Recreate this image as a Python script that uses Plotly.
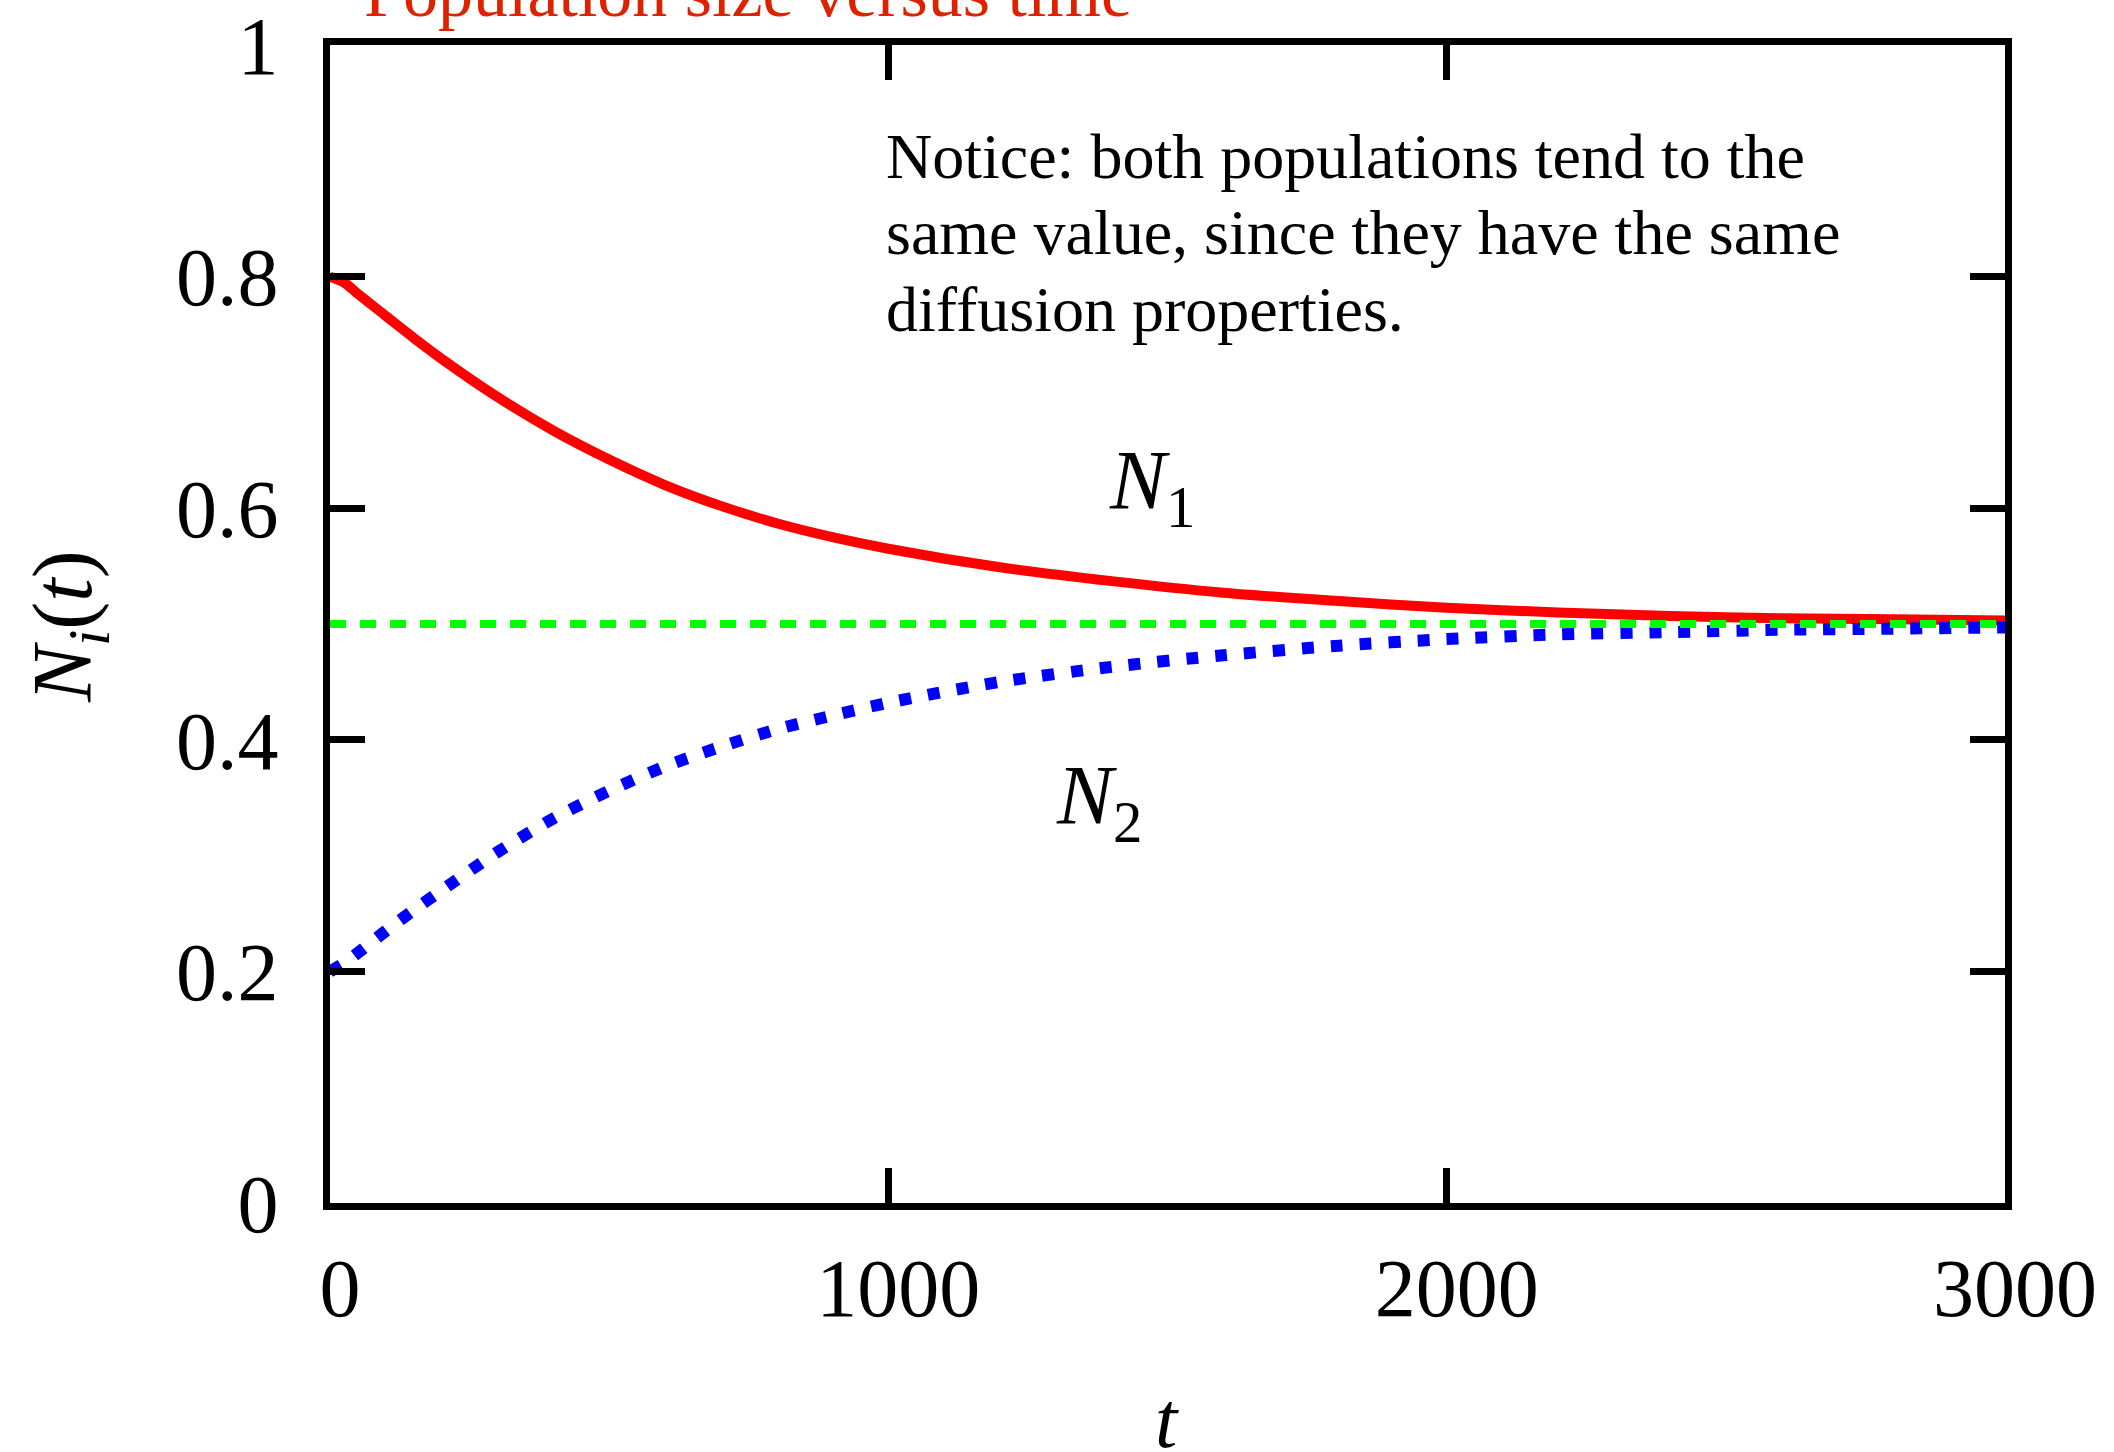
import plotly.graph_objects as go

# ---- data ----
t = [0, 25, 50, 100, 150, 200, 300, 400, 500, 600, 700, 800, 900, 1000,
     1200, 1400, 1600, 1800, 2000, 2200, 2400, 2600, 2800, 3000]
n1 = [0.800, 0.795, 0.785, 0.766, 0.747, 0.729, 0.696, 0.667, 0.642, 0.620,
      0.602, 0.587, 0.575, 0.565, 0.549, 0.537, 0.527, 0.520, 0.514, 0.510,
      0.507, 0.505, 0.504, 0.503]
n2 = [0.200, 0.207, 0.216, 0.235, 0.253, 0.270, 0.303, 0.332, 0.356, 0.377,
      0.394, 0.409, 0.421, 0.432, 0.450, 0.463, 0.473, 0.481, 0.487, 0.491,
      0.493, 0.495, 0.496, 0.497]
eq_t = [0, 3000]
eq_v = [0.5, 0.5]

x_ticks = [0, 1000, 2000, 3000]
x_ticktext = ["0", "1000", "2000", "3000"]
y_ticks = [0, 0.2, 0.4, 0.6, 0.8, 1.0]
y_ticktext = ["0", "0.2", "0.4", "0.6", "0.8", "1"]

title_text = "Population size versus time"
note_lines = ["Notice: both populations tend to the",
              "same value, since they have the same",
              "diffusion properties."]

FONT = "Liberation Serif, Times New Roman, serif"
W, H = 2114, 1452
L, R, T, B = 330, 2005, 45, 1203  # plot area in pixels


def px(x):
    return (x - L) / (R - L)


def py(y):
    return (B - y) / (B - T)


fig = go.Figure()
fig.add_trace(go.Scatter(x=t, y=n1, mode="lines",
                         line=dict(color="#ff0000", width=10, shape="spline", smoothing=0.8),
                         hoverinfo="skip"))
fig.add_trace(go.Scatter(x=t, y=n2, mode="lines",
                         line=dict(color="#0000ff", width=12, dash="12px,17px", shape="spline", smoothing=0.8),
                         hoverinfo="skip"))
fig.add_trace(go.Scatter(x=eq_t, y=eq_v, mode="lines",
                         line=dict(color="#00ff00", width=8, dash="16px,14px"),
                         hoverinfo="skip"))

axis_common = dict(showgrid=False, zeroline=False, showline=True, linecolor="black",
                   linewidth=7, mirror="ticks", ticks="inside", ticklen=35,
                   tickwidth=7, tickcolor="black", automargin=False,
                   tickfont=dict(family=FONT, size=82, color="black"))

fig.update_xaxes(range=[0, 3000], tickvals=x_ticks, ticktext=x_ticktext,
                 ticklabelstandoff=8, ticklabelshift=10, **axis_common)
fig.update_yaxes(range=[0, 1], tickvals=y_ticks, ticktext=y_ticktext,
                 ticklabelstandoff=28, **axis_common)

ann = []
ann.append(dict(text=title_text, xref="paper", yref="paper", x=px(748), y=py(-7),
                xanchor="center", yanchor="middle", showarrow=False,
                font=dict(family=FONT, size=70, color="#dd2200")))
for i, line in enumerate(note_lines):
    ann.append(dict(text=line, xref="paper", yref="paper", x=px(884), y=py(156 + 77 * i),
                    xanchor="left", yanchor="middle", showarrow=False,
                    font=dict(family=FONT, size=64, color="black")))
ann.append(dict(text="<i>N</i><sub>1</sub>", xref="paper", yref="paper",
                x=px(1152), y=py(487), xanchor="center", yanchor="middle", showarrow=False,
                font=dict(family=FONT, size=84, color="black")))
ann.append(dict(text="<i>N</i><sub>2</sub>", xref="paper", yref="paper",
                x=px(1099), y=py(802), xanchor="center", yanchor="middle", showarrow=False,
                font=dict(family=FONT, size=84, color="black")))
ann.append(dict(text="<i>t</i>", xref="paper", yref="paper",
                x=px(1167), y=py(1420), xanchor="center", yanchor="middle", showarrow=False,
                font=dict(family=FONT, size=80, color="black")))
ann.append(dict(text="<i>N<sub>i</sub></i>(<i>t</i>)", xref="paper", yref="paper",
                x=px(69), y=py(627), xanchor="center", yanchor="middle", showarrow=False,
                textangle=-90,
                font=dict(family=FONT, size=84, color="black")))

fig.update_layout(width=W, height=H, autosize=False,
                  margin=dict(l=L, r=W - R, t=T, b=H - B, pad=0, autoexpand=False),
                  paper_bgcolor="white", plot_bgcolor="white",
                  showlegend=False, annotations=ann)

fig.write_html("out.html", config={"displayModeBar": False})
